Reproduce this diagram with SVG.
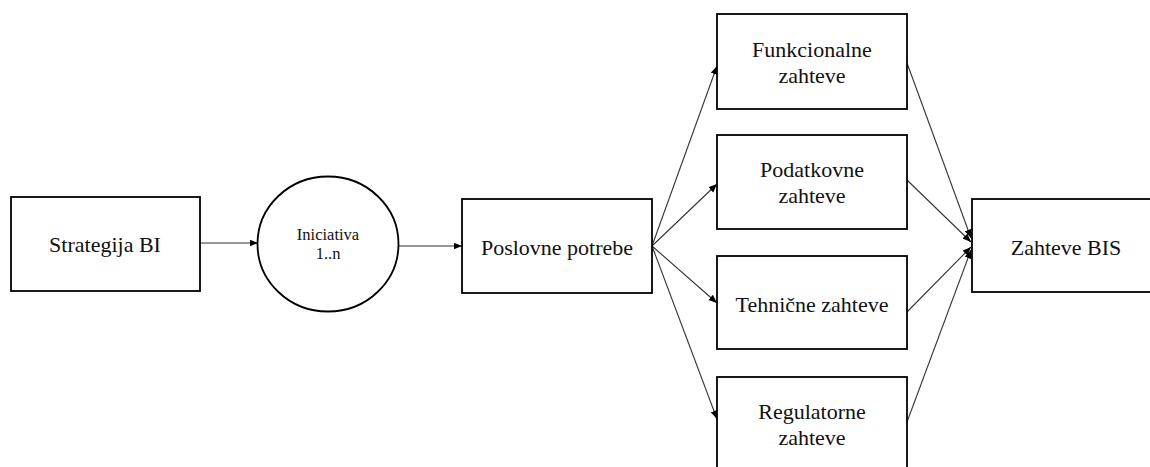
<svg xmlns="http://www.w3.org/2000/svg" width="1150" height="467" viewBox="0 0 1150 467">
  <style>
    .box { fill: #ffffff; stroke: #000000; stroke-width: 1.8; }
    .lbl { font-family: 'Liberation Serif', 'DejaVu Serif', 'Times New Roman', Times, serif; font-size: 22px; fill: #111111; text-anchor: middle; }
    .small { font-size: 16.5px; }
    .edge { fill: none; stroke: #333333; stroke-width: 1.1; marker-end: url(#arrow); }
  </style>
  <defs>
    <marker id="arrow" markerUnits="userSpaceOnUse" markerWidth="9" markerHeight="8" refX="8.5" refY="3.5" orient="auto">
      <path d="M0,0 L8.5,3.5 L0,7 z" fill="#000000"/>
    </marker>
  </defs>
  <rect width="1150" height="467" fill="#ffffff"/>

  <g id="connectors">
    <line class="edge" x1="200" y1="243" x2="258" y2="243"/>
    <line class="edge" x1="399" y1="246" x2="462" y2="246"/>
    <line class="edge" x1="652" y1="246" x2="717" y2="66"/>
    <line class="edge" x1="652" y1="246" x2="717" y2="184"/>
    <line class="edge" x1="652" y1="246" x2="717" y2="303"/>
    <line class="edge" x1="652" y1="246" x2="717" y2="419"/>
    <line class="edge" x1="907" y1="63" x2="971" y2="238"/>
    <line class="edge" x1="907" y1="180" x2="971" y2="242"/>
    <line class="edge" x1="907" y1="312" x2="971" y2="247"/>
    <line class="edge" x1="907" y1="422" x2="971" y2="250"/>
  </g>

  <g id="strategija">
    <rect class="box" x="11" y="197" width="189" height="94"/>
    <text class="lbl" font-family="Liberation Serif, serif" x="105" y="252">Strategija BI</text>
  </g>

  <g id="iniciativa">
    <ellipse class="box" cx="328" cy="244" rx="70.5" ry="67.5"/>
    <text class="lbl small" x="328" y="240">Iniciativa</text>
    <text class="lbl small" x="328" y="259">1..n</text>
  </g>

  <g id="poslovne">
    <rect class="box" x="462" y="199" width="190" height="94"/>
    <text class="lbl" x="557" y="255">Poslovne potrebe</text>
  </g>

  <g id="funkcionalne">
    <rect class="box" x="717" y="14" width="190" height="95"/>
    <text class="lbl" x="812" y="57">Funkcionalne</text>
    <text class="lbl" x="812" y="83">zahteve</text>
  </g>

  <g id="podatkovne">
    <rect class="box" x="717" y="135" width="190" height="94"/>
    <text class="lbl" x="812" y="177">Podatkovne</text>
    <text class="lbl" x="812" y="203">zahteve</text>
  </g>

  <g id="tehnicne">
    <rect class="box" x="717" y="256" width="190" height="93"/>
    <text class="lbl" x="812" y="312">Tehnične zahteve</text>
  </g>

  <g id="regulatorne">
    <rect class="box" x="717" y="377" width="190" height="95"/>
    <text class="lbl" x="812" y="419">Regulatorne</text>
    <text class="lbl" x="812" y="445">zahteve</text>
  </g>

  <g id="zahteve-bis">
    <rect class="box" x="972" y="199" width="190" height="93"/>
    <text class="lbl" x="1066" y="255">Zahteve BIS</text>
  </g>
</svg>
